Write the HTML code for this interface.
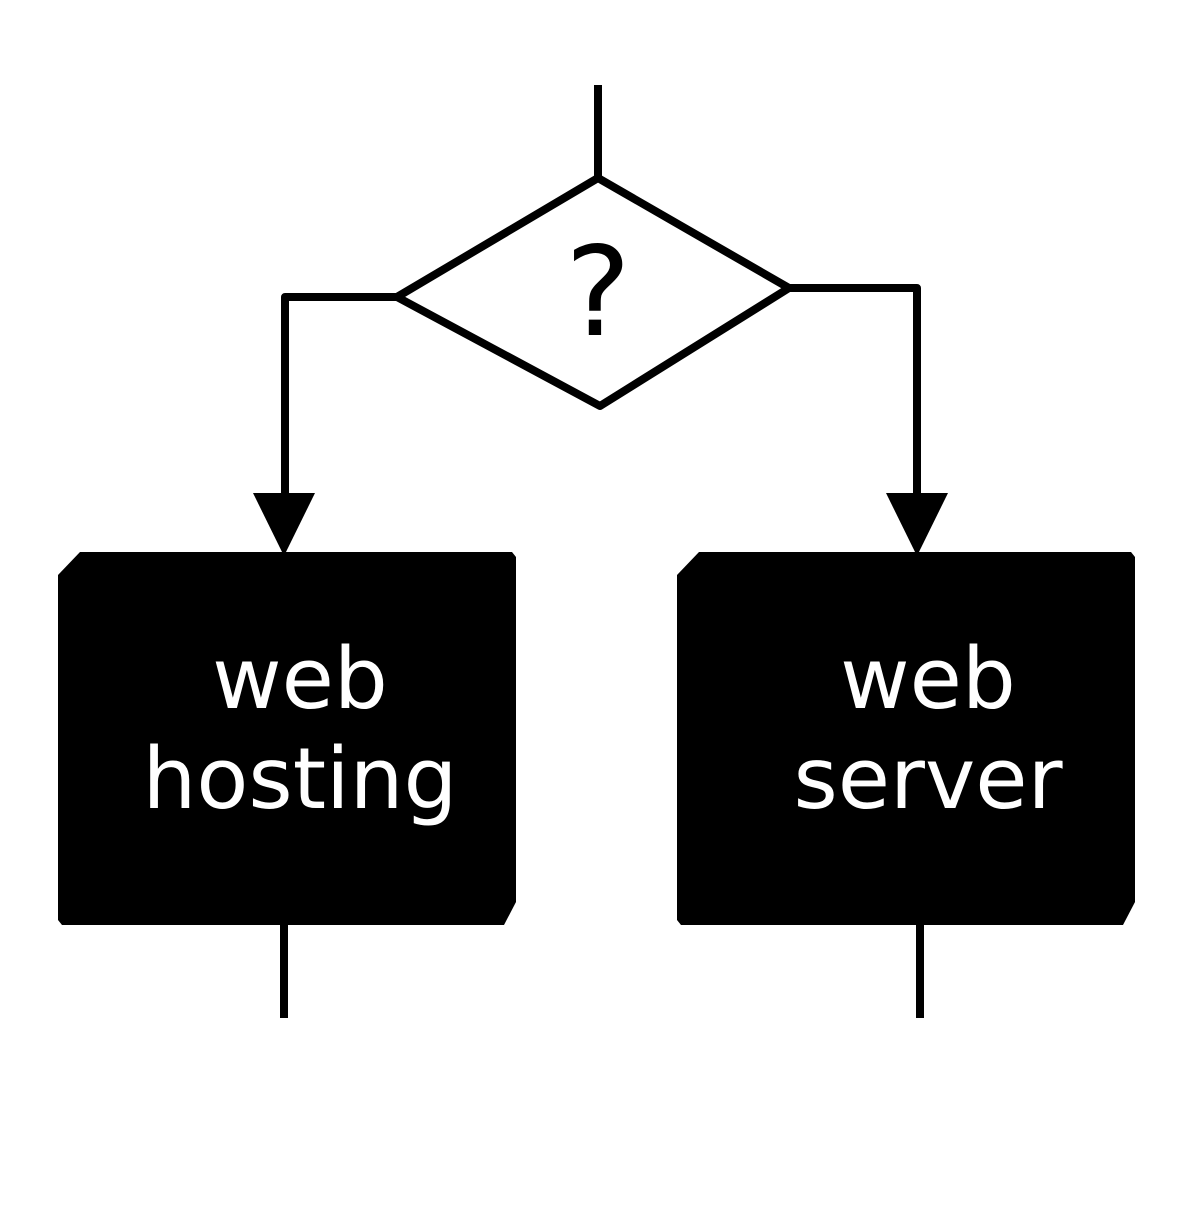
<!DOCTYPE html>
<html><head><style>html,body{margin:0;padding:0;background:#fff}</style></head>
<body>
<svg width="1200" height="1200" viewBox="0 0 1200 1200" xmlns="http://www.w3.org/2000/svg">
<rect width="1200" height="1200" fill="#fff"/>
<g stroke="#000" stroke-width="8" fill="none" stroke-linejoin="round">
<line x1="598" y1="85" x2="598" y2="178"/>
<polygon points="598,178 789,288 600,406 397,297" fill="#fff"/>
<polyline points="397,297 285,297 285,500"/>
<polyline points="789,288 917,288 917,500"/>
<line x1="284" y1="925" x2="284" y2="1018"/>
<line x1="920" y1="925" x2="920" y2="1018"/>
</g>
<polygon points="253,493 315,493 284,556" fill="#000"/>
<polygon points="886,493 948,493 917,556" fill="#000"/>
<polygon points="80,552 512,552 516,557 516,902 504,925 62,925 58,920 58,575" fill="#000"/>
<polygon points="699,552 1131,552 1135,557 1135,902 1123,925 681,925 677,920 677,575" fill="#000"/>
<g font-family="'DejaVu Sans','Liberation Sans',sans-serif" font-size="85" text-anchor="middle">
<text x="598" y="335" font-size="124" fill="#000">?</text>
<text x="300" y="708" fill="#fff">web</text>
<text x="300" y="808" fill="#fff">hosting</text>
<text x="928" y="708" fill="#fff">web</text>
<text x="928" y="808" fill="#fff">server</text>
</g>
</svg>
</body></html>
